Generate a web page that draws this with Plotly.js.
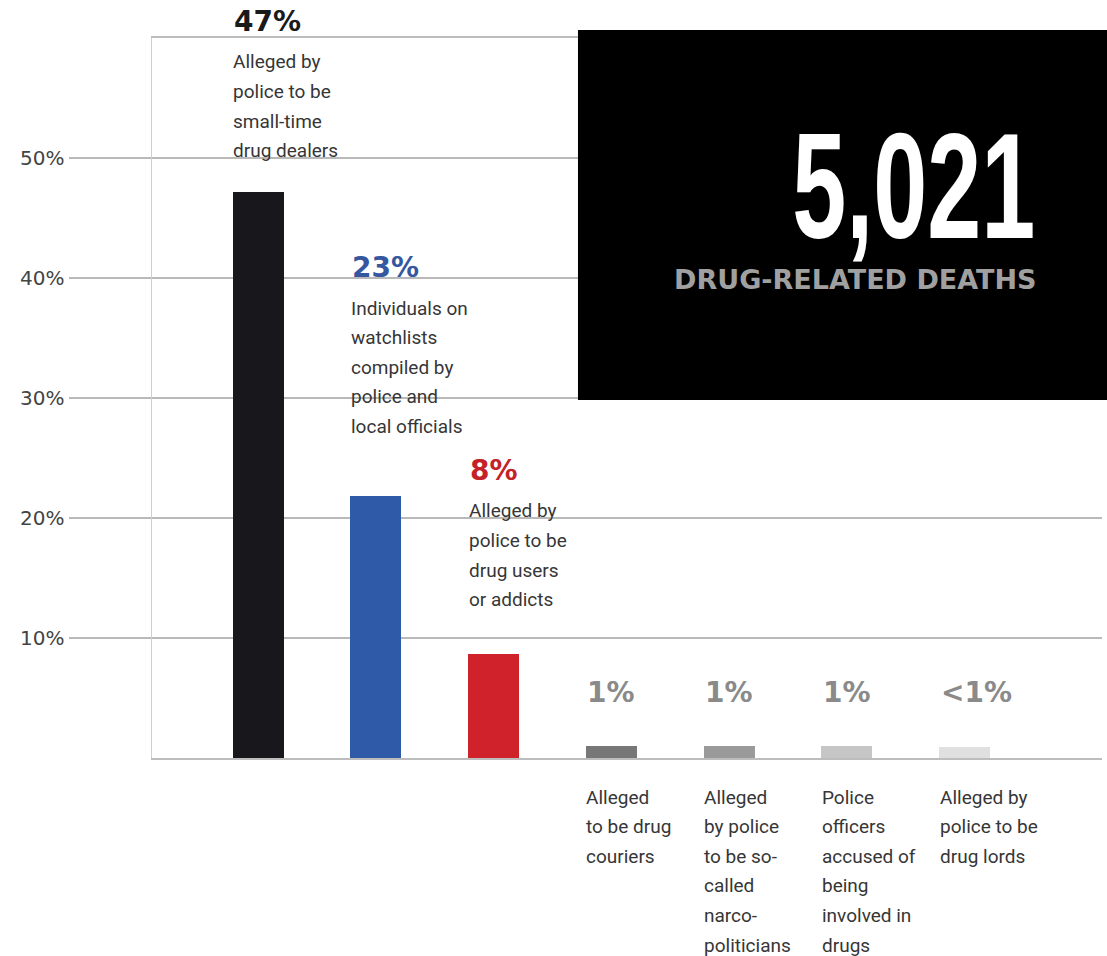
<!DOCTYPE html>
<html>
<head>
<meta charset="utf-8">
<script src="https://cdn.plot.ly/plotly-3.0.1.min.js"></script>
<style>html,body{margin:0;padding:0;background:#fff;}</style>
</head>
<body>
<div id="chart" style="width:1107px;height:956px;"></div>
<script>
// ---- data ----
const categories = ['Small-time drug dealers', 'Watchlist individuals', 'Drug users or addicts',
  'Drug couriers', 'Narco-politicians', 'Police officers', 'Drug lords'];
const barValues = [47.2, 21.8, 8.7, 1.0, 1.0, 1.0, 0.9];
const valueLabels = ['47%', '23%', '8%', '1%', '1%', '1%', '<1%'];
const descriptions = [
  ['Alleged by', 'police to be', 'small-time', 'drug dealers'],
  ['Individuals on', 'watchlists', 'compiled by', 'police and', 'local officials'],
  ['Alleged by', 'police to be', 'drug users', 'or addicts'],
  ['Alleged', 'to be drug', 'couriers'],
  ['Alleged', 'by police', 'to be so-', 'called', 'narco-', 'politicians'],
  ['Police', 'officers', 'accused of', 'being', 'involved in', 'drugs'],
  ['Alleged by', 'police to be', 'drug lords']
];
const tickValues = [10, 20, 30, 40, 50];
const tickLabels = ['10%', '20%', '30%', '40%', '50%'];
const totalDeaths = '5,021';
const totalLabel = 'DRUG-RELATED DEATHS';

// ---- styles ----
const yMax = 60;
const barColors = ['#17171c', '#2e5aa8', '#cf222a', '#777777', '#9a9a9a', '#c6c6c6', '#e0e0e0'];
const labelColors = ['#1a1a1a', '#3557a0', '#c42229', '#8a8a8a', '#8a8a8a', '#8a8a8a', '#8a8a8a'];
// vertical placement (in axis units) of value label centre and first description line centre
const labelY = [61.4, 40.9, 24.0, 5.5, 5.5, 5.5, 5.5];
const descY = [58.0, 37.5, 20.6, -3.25, -3.25, -3.25, -3.25];
const lineStep = 29.6;
const descFont = {family: 'Roboto, Liberation Sans, sans-serif', size: 19, color: '#363636'};
const bigNumberWidth = 243;

const annotations = [];
categories.forEach((c, i) => {
  annotations.push({
    x: c, xref: 'x', y: labelY[i] / yMax, yref: 'paper', xanchor: 'left', yanchor: 'middle',
    xshift: -26, showarrow: false, text: '<b>' + valueLabels[i].replace('<', '&lt;') + '</b>',
    font: {family: 'DejaVu Sans, sans-serif', size: 28, color: labelColors[i]}
  });
  descriptions[i].forEach((line, k) => {
    annotations.push({
      x: c, xref: 'x', y: descY[i] / yMax, yref: 'paper', xanchor: 'left', yanchor: 'middle',
      xshift: -27, yshift: -lineStep * k, showarrow: false, text: line, font: descFont
    });
  });
});
annotations.push({
  x: 0.8016, xref: 'paper', y: 0.7938, yref: 'paper', xanchor: 'center', yanchor: 'middle',
  showarrow: false, text: '<b>' + totalDeaths + '</b>',
  font: {family: 'Liberation Sans, Arial, sans-serif', size: 150, color: '#ffffff'}
});
annotations.push({
  x: 0.7405, xref: 'paper', y: 0.6639, yref: 'paper', xanchor: 'center', yanchor: 'middle',
  showarrow: false, text: '<b>' + totalLabel + '</b>',
  font: {family: 'DejaVu Sans, sans-serif', size: 27, color: '#a0a0a0'}
});

const trace = {
  type: 'bar', x: categories, y: barValues, width: 0.433,
  marker: {color: barColors, line: {width: 0}}, hoverinfo: 'none'
};

const layout = {
  width: 1107, height: 956,
  margin: {l: 152, r: 5, t: 38, b: 198},
  paper_bgcolor: '#ffffff', plot_bgcolor: '#ffffff',
  showlegend: false,
  bargap: 0,
  xaxis: {
    type: 'category', range: [-0.9, 7.165], showticklabels: false, ticks: '',
    showgrid: false, zeroline: false, showline: true, mirror: true,
    linecolor: '#bdbdbd', linewidth: 2, fixedrange: true
  },
  yaxis: {
    range: [0, yMax], tickvals: tickValues, ticktext: tickLabels,
    showgrid: true, gridcolor: '#b9b9b9', gridwidth: 1.5,
    ticks: 'outside', ticklen: 82, tickwidth: 1.5, tickcolor: '#b9b9b9',
    showline: true, linecolor: '#cfcfcf', linewidth: 1.5, zeroline: false,
    tickfont: {family: 'DejaVu Sans, sans-serif', size: 20, color: '#444444'},
    fixedrange: true
  },
  shapes: [{
    type: 'rect', xref: 'paper', yref: 'paper', x0: 0.4484, x1: 1.01, y0: 0.4972, y1: 1.011,
    fillcolor: '#000000', line: {width: 0}, layer: 'above'
  }],
  annotations: annotations
};

Plotly.newPlot('chart', [trace], layout, {displayModeBar: false, staticPlot: true}).then(() => {
  document.querySelectorAll('.annotation-text').forEach(t => {
    if (t.textContent === totalDeaths) {
      const bb = t.getBBox();
      const cx = bb.x + bb.width / 2;
      const s = bigNumberWidth / bb.width;
      t.setAttribute('transform', 'translate(' + cx + ',0) scale(' + s + ',1) translate(' + (-cx) + ',0)');
    }
  });
});
</script>
</body>
</html>
